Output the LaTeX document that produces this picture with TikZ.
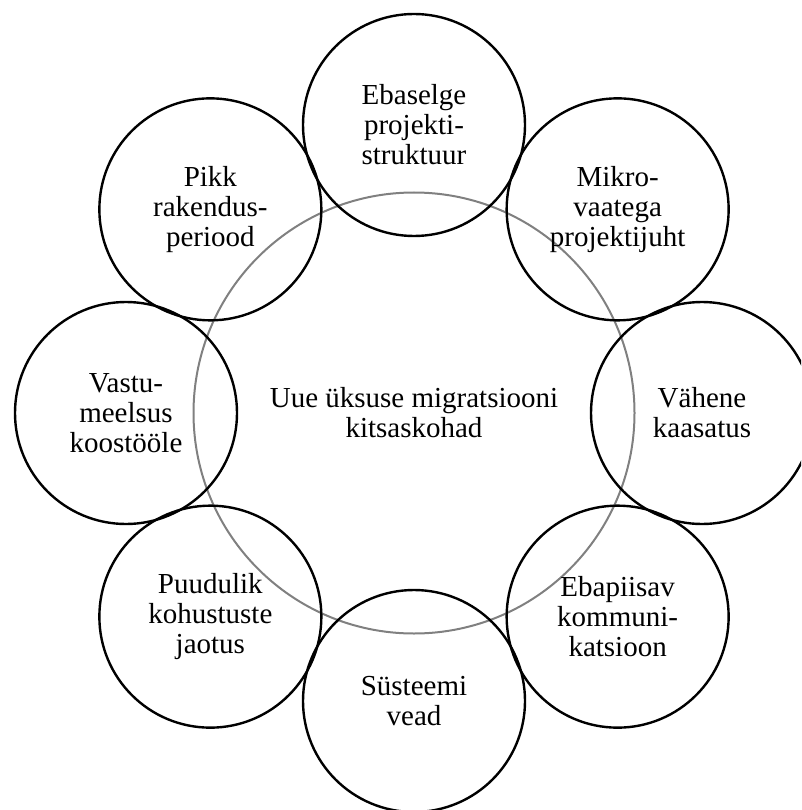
\documentclass[tikz,border=0pt]{standalone}
\usepackage{fontspec}
\setmainfont{Liberation Serif}
\usetikzlibrary{calc}
\begin{document}
\begin{tikzpicture}[x=1pt,y=-1pt,
  every node/.style={align=center,inner sep=0pt,
    font=\fontsize{29pt}{30pt}\selectfont},
  issue/.style={circle,draw=black,line width=2.4pt,minimum size=222pt},
  core/.style={circle,draw=gray,line width=2pt,minimum size=441pt}]
  \useasboundingbox (0,0) rectangle (801,810);
  \clip (0,0) rectangle (801,810);
  \coordinate (c) at (414,413);
  % central theme
  \node[core] (hub) at (c) {Uue üksuse migratsiooni\\kitsaskohad};
  % surrounding bottlenecks, 288pt from the centre
  \node[issue] (n1) at ($(c)+(90:288pt)$)   {Ebaselge\\projekti-\\struktuur};
  \node[issue] (n2) at ($(c)+(45:288pt)$)   {Mikro-\\vaatega\\projektijuht};
  \node[issue] (n3) at ($(c)+(0:288pt)$)    {Vähene\\kaasatus};
  \node[issue] (n4) at ($(c)+(-45:288pt)$)  {Ebapiisav\\kommuni-\\katsioon};
  \node[issue] (n5) at ($(c)+(-90:288pt)$)  {Süsteemi\\vead};
  \node[issue] (n6) at ($(c)+(-135:288pt)$) {Puudulik\\kohustuste\\jaotus};
  \node[issue] (n7) at ($(c)+(180:288pt)$)  {Vastu-\\meelsus\\koostööle};
  \node[issue] (n8) at ($(c)+(135:288pt)$)  {Pikk\\rakendus-\\periood};
\end{tikzpicture}
\end{document}
